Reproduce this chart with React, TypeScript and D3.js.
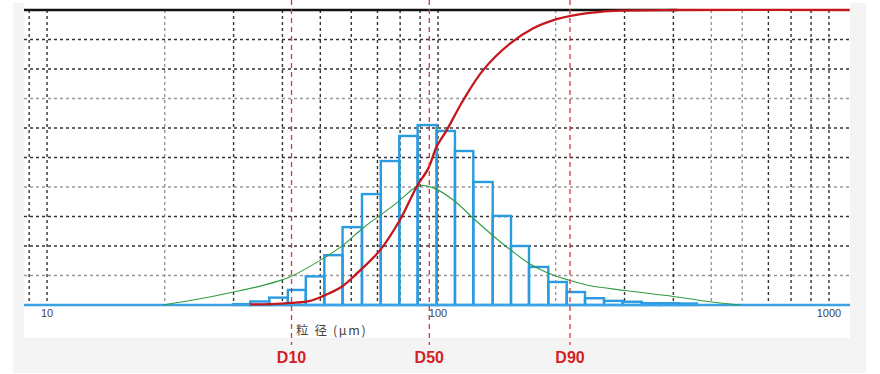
import React from 'react';
import * as d3 from 'd3';

// histogram bins (µm) and heights (same 0-100 scale as the cumulative curve)
const binEdges = [29.9, 33.1, 37.0, 41.3, 45.9, 51.2, 57.0, 63.9, 71.4, 79.6, 88.7, 99.2, 110.5, 123.1, 138.0, 153.7, 170.9, 191.5, 213.4, 237.7, 265.9, 296.8, 331.9, 369.7, 413.4, 459.6];
const binHeights = [0.3, 1.2, 2.5, 5.1, 9.7, 16.9, 26.4, 37.6, 48.8, 57.3, 61.0, 59.0, 52.2, 41.7, 30.2, 20.0, 12.9, 7.8, 4.4, 2.3, 1.4, 1.1, 0.6, 0.6, 0.5];

// cumulative curve (red)
const cumSize = [33.0, 37.2, 42.1, 47.1, 50.9, 56.7, 62.0, 71.1, 79.9, 88.2, 94.5, 99.2, 105.3, 116.1, 130.6, 152.8, 175.3, 201.2, 221.8, 259.6, 292.2, 408.6, 1130];
const cumPct = [0.2, 0.3, 0.7, 1.4, 3.1, 6.2, 10.7, 18.6, 28.8, 40.1, 46.4, 53.7, 59.3, 69.5, 79.7, 88.6, 93.8, 96.9, 98.2, 99.4, 99.8, 100, 100];

// frequency curve (green)
const freqSize = [19.8, 24.6, 30.0, 35.1, 40.1, 42.3, 50.9, 57.2, 64.4, 71.1, 78.4, 86.5, 89.9, 97.3, 109.4, 123.1, 138.5, 154.3, 171.9, 191.5, 215.4, 240.0, 300.8, 399.7, 496.3, 592.2];
const freqVal = [0, 2.1, 4.4, 6.4, 8.6, 9.8, 15.8, 20.3, 26.2, 30.4, 34.6, 39.4, 40.5, 39.7, 35.6, 29.4, 23.4, 18.4, 13.9, 10.8, 8.5, 6.8, 4.9, 2.9, 1.1, 0];

const dLabels = ['D10', 'D50', 'D90'];
const dValues = [42.2, 95.0, 217.6];

const tickLabels = [10, 100, 1000];
const yGrid = [10, 20, 30, 40, 50, 60, 70, 80, 90];
const axisTitle = '粒 径 (μm)';

const W = 880;
const H = 374;

export default function App() {
  const x = d3.scaleLog().domain([8.73, 1132]).range([24, 850]);
  const y = d3.scaleLinear().domain([0, 100]).range([305, 10]);

  const xGrid = x.ticks();
  const lightX = [20, 200, 500, 600];
  const lightY = [10, 40, 70];

  const cumLine = d3
    .line<number>()
    .x((d, i) => x(cumSize[i]))
    .y((d) => y(d))
    .curve(d3.curveCatmullRom.alpha(0.5));

  const freqLine = d3
    .line<number>()
    .x((d, i) => x(freqSize[i]))
    .y((d) => y(d))
    .curve(d3.curveCatmullRom.alpha(0.5));

  const font = '"Liberation Sans", Arial, sans-serif';

  return (
    <svg width={W} height={H} style={{ position: 'absolute', left: 0, top: 0 }}>
      <rect x={0} y={0} width={W} height={H} fill="#fff" />
      <rect x={13} y={3} width={853} height={370} fill="#f4f4f4" />
      <rect x={24} y={0} width={826} height={338} fill="#fff" />

      {/* grid */}
      {yGrid.map((v) => (
        <line
          key={'h' + v}
          x1={x.range()[0]}
          x2={x.range()[1]}
          y1={y(v)}
          y2={y(v)}
          stroke={lightY.includes(v) ? '#999' : '#333'}
          strokeWidth={1.4}
          strokeDasharray="3,3"
        />
      ))}
      {xGrid.map((v) => (
        <line
          key={'v' + v}
          x1={x(v)}
          x2={x(v)}
          y1={y(100)}
          y2={y(0)}
          stroke={lightX.includes(v) ? '#999' : '#333'}
          strokeWidth={1.4}
          strokeDasharray="3,3"
        />
      ))}
      <line x1={x.range()[0]} x2={x(408.6)} y1={y(100)} y2={y(100)} stroke="#111" strokeWidth={2.5} />

      {/* histogram */}
      {binHeights.map((h, i) => (
        <rect
          key={'b' + i}
          x={x(binEdges[i])}
          y={y(h)}
          width={x(binEdges[i + 1]) - x(binEdges[i])}
          height={y(0) - y(h)}
          fill="none"
          stroke="#2b9be0"
          strokeWidth={2.4}
        />
      ))}
      <line x1={x.range()[0]} x2={x.range()[1]} y1={y(0)} y2={y(0)} stroke="#3aa2e2" strokeWidth={2.5} />

      <path d={freqLine(freqVal) || ''} fill="none" stroke="#2e9c40" strokeWidth={1.1} />
      <path d={cumLine(cumPct) || ''} fill="none" stroke="#c3161d" strokeWidth={2.3} />

      {/* tick labels */}
      {tickLabels.map((t) => (
        <text key={'t' + t} x={x(t)} y={317} textAnchor="middle" fontFamily={font} fontSize={11} fill="#444">
          {t}
        </text>
      ))}
      <text x={296} y={335} fontFamily='"Noto Sans CJK SC", sans-serif' fontSize={12.5} fill="#444" letterSpacing={1.6}>
        {axisTitle}
      </text>

      {/* D markers */}
      {dValues.map((v, i) => (
        <g key={dLabels[i]}>
          <line x1={x(v)} x2={x(v)} y1={0} y2={345} stroke="#d23a3a" strokeWidth={1.3} strokeDasharray="5,4" />
          <text x={x(v)} y={363} textAnchor="middle" fontFamily={font} fontWeight="bold" fontSize={16} fill="#d51f26">
            {dLabels[i]}
          </text>
        </g>
      ))}
    </svg>
  );
}
